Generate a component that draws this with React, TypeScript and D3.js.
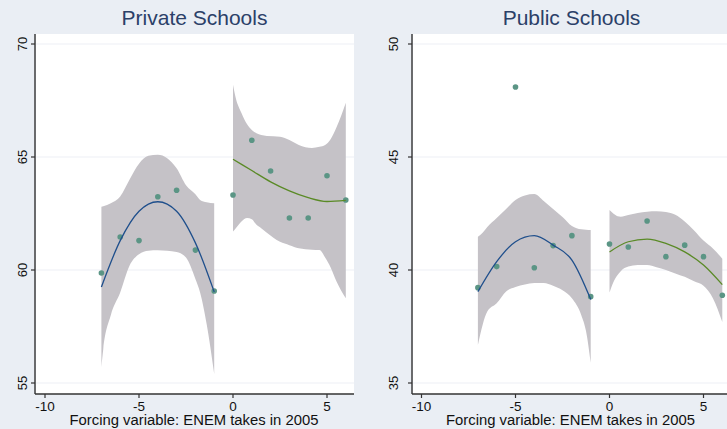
import * as d3 from 'd3';

// bin centres and cell means
const binX = [-7, -6, -5, -4, -3, -2, -1, 0, 1, 2, 3, 4, 5, 6];
const privMeans = [59.87, 61.46, 61.3, 63.24, 63.53, 60.88, 59.07, 63.32, 65.74, 64.38, 62.3, 62.3, 64.17, 63.1];
const pubMeans = [39.22, 40.15, 48.1, 40.1, 41.08, 41.52, 38.82, 41.15, 41.02, 42.17, 40.59, 41.1, 40.59, 38.88];

// quadratic fits, each side of the cutoff
const fitXLeft = [-7, -6, -5, -4, -3, -2, -1];
const fitXRight = [0, 1, 2, 3, 4, 5, 6];
const privFitLeft = [59.25, 61.3, 62.6, 63.02, 62.6, 61.2, 59.03];
const privFitRight = [64.9, 64.4, 63.9, 63.5, 63.2, 63.03, 63.08];
const pubFitLeft = [39.04, 40.37, 41.25, 41.52, 41.1, 40.44, 38.7];
const pubFitRight = [40.8, 41.25, 41.37, 41.18, 40.8, 40.22, 39.35];

// confidence bands
const privBandLX = [-7, -6.9, -6.5, -6, -5.5, -5, -4.5, -4, -3.5, -3, -2.5, -2, -1.75, -1.4, -1];
const privBandLHi = [62.8, 62.82, 62.95, 63.25, 64.0, 64.7, 65.05, 65.1, 64.95, 64.5, 63.75, 63.35, 63.1, 63.0, 62.95];
const privBandLLo = [55.7, 56.5, 58.0, 59.0, 60.2, 60.7, 60.85, 60.87, 60.85, 60.8, 60.55, 59.6, 59.0, 57.6, 55.4];
const privBandRX = [0, 0.15, 0.45, 0.75, 1, 1.25, 1.5, 1.8, 2.5, 3, 3.5, 4.2, 4.6, 4.9, 5.2, 5.5, 6];
const privBandRHi = [68.2, 67.6, 66.95, 66.45, 66.2, 66.05, 65.97, 65.93, 65.9, 65.75, 65.53, 65.4, 65.45, 65.53, 65.8, 66.3, 67.4];
const privBandRLo = [61.7, 61.85, 62.15, 62.3, 62.25, 62.0, 61.85, 61.65, 61.25, 61.1, 60.96, 60.9, 60.88, 60.55, 60.1, 59.5, 58.75];

const pubBandLX = [-7, -6.75, -6.5, -6, -5.5, -5, -4.5, -4, -3.5, -3, -2.5, -2, -1.5, -1.25, -1];
const pubBandLHi = [41.47, 41.65, 41.9, 42.3, 42.7, 43.1, 43.3, 43.36, 43.05, 42.7, 42.35, 41.95, 41.8, 41.78, 41.77];
const pubBandLLo = [36.68, 37.57, 38.16, 38.53, 39.05, 39.25, 39.36, 39.43, 39.42, 39.3, 39.1, 38.75, 38.0, 37.3, 35.9];
const pubBandRX = [0, 0.2, 0.43, 0.6, 1, 1.5, 2, 2.5, 3, 3.5, 4, 4.5, 5, 5.5, 6];
const pubBandRHi = [42.65, 42.5, 42.38, 42.36, 42.43, 42.52, 42.58, 42.6, 42.57, 42.45, 42.15, 41.75, 41.3, 40.95, 40.5];
const pubBandRLo = [39.0, 39.45, 39.78, 39.95, 40.15, 40.22, 40.22, 40.12, 40.0, 39.85, 39.7, 39.5, 39.3, 38.75, 37.7];

const xTicks = [-10, -5, 0, 5];
const privYTicks = [55, 60, 65, 70];
const pubYTicks = [35, 40, 45, 50];

const FONT = 'Liberation Sans, Arial, Helvetica, sans-serif';
const BG = '#eaeef4';
const BAND = '#c5c2c7';
const DOT = '#5b9585';
const BLUE = '#1f4f8c';
const GREEN = '#5a8a26';

const TOP = 34;
const AXIS_Y = 394;

interface PanelProps {
  title: string;
  axisX: number;
  plotRight: number;
  xRange: [number, number];
  yDomain: [number, number];
  yTicks: number[];
  labelX: number;
  means: number[];
  fitLeft: number[];
  fitRight: number[];
  bandLX: number[];
  bandLHi: number[];
  bandLLo: number[];
  bandRX: number[];
  bandRHi: number[];
  bandRLo: number[];
}

function Panel(p: PanelProps) {
  const x = d3.scaleLinear().domain([-10, 5]).range(p.xRange);
  const y = d3.scaleLinear().domain(p.yDomain).range([383, 44]);

  const area = d3
    .area<number>()
    .x((d) => x(d))
    .curve(d3.curveMonotoneX);

  const bandPath = (xs: number[], hi: number[], lo: number[]) =>
    area.y0((_, i) => y(lo[i])).y1((_, i) => y(hi[i]))(xs) ?? '';

  const line = d3
    .line<[number, number]>()
    .x((d) => x(d[0]))
    .y((d) => y(d[1]))
    .curve(d3.curveMonotoneX);

  const centre = (p.axisX + p.plotRight) / 2;
  const titleX = (x(-10) + x(5)) / 2 + 8;

  return (
    <g>
      <rect x={p.axisX + 1} y={TOP} width={p.plotRight - p.axisX - 1} height={AXIS_Y - TOP} fill="#ffffff" />
      {p.yTicks.map((t) => (
        <line key={t} x1={p.axisX} x2={p.plotRight} y1={y(t)} y2={y(t)} stroke="#edf0f5" strokeWidth={1.2} />
      ))}
      <path d={bandPath(p.bandLX, p.bandLHi, p.bandLLo)} fill={BAND} />
      <path d={bandPath(p.bandRX, p.bandRHi, p.bandRLo)} fill={BAND} />
      {binX.map((bx, i) => (
        <circle key={bx} cx={x(bx)} cy={y(p.means[i])} r={2.8} fill={DOT} />
      ))}
      <path d={line(fitXLeft.map((v, i) => [v, p.fitLeft[i]]) as [number, number][]) ?? ''} fill="none" stroke={BLUE} strokeWidth={1.3} />
      <path d={line(fitXRight.map((v, i) => [v, p.fitRight[i]]) as [number, number][]) ?? ''} fill="none" stroke={GREEN} strokeWidth={1.3} />

      {/* axes */}
      <line x1={p.axisX} x2={p.axisX} y1={TOP} y2={AXIS_Y} stroke="#333" strokeWidth={1.4} />
      <line x1={p.axisX} x2={p.plotRight} y1={AXIS_Y} y2={AXIS_Y} stroke="#333" strokeWidth={1.4} />
      {p.yTicks.map((t) => (
        <g key={t}>
          <line x1={p.axisX - 4} x2={p.axisX} y1={y(t)} y2={y(t)} stroke="#333" strokeWidth={1.2} />
          <text
            transform={`translate(${p.labelX},${y(t)}) rotate(-90)`}
            textAnchor="middle"
            fontSize={13}
            fontFamily={FONT}
            fill="#111"
          >
            {t}
          </text>
        </g>
      ))}
      {xTicks.map((t) => (
        <g key={t}>
          <line x1={x(t)} x2={x(t)} y1={AXIS_Y} y2={AXIS_Y + 4} stroke="#333" strokeWidth={1.2} />
          <text x={x(t)} y={410.5} textAnchor="middle" fontSize={13.5} fontFamily={FONT} fill="#111">
            {t}
          </text>
        </g>
      ))}
      <text
        x={titleX}
        y={425}
        textAnchor="middle"
        fontSize={15.5}
        fontFamily={FONT}
        fill="#111"
        textLength={249}
        lengthAdjust="spacingAndGlyphs"
      >
        Forcing variable: ENEM takes in 2005
      </text>
      <text x={centre} y={25} textAnchor="middle" fontSize={21} fontFamily={FONT} fill="#2b4068">
        {p.title}
      </text>
    </g>
  );
}

export default function App() {
  return (
    <div style={{ position: 'fixed', left: 0, top: 0 }}>
      <svg width={727} height={429} style={{ display: 'block', background: BG }}>
        <Panel
          title="Private Schools"
          axisX={35}
          plotRight={354}
          xRange={[45, 327]}
          yDomain={[55, 70]}
          yTicks={privYTicks}
          labelX={27}
          means={privMeans}
          fitLeft={privFitLeft}
          fitRight={privFitRight}
          bandLX={privBandLX}
          bandLHi={privBandLHi}
          bandLLo={privBandLLo}
          bandRX={privBandRX}
          bandRHi={privBandRHi}
          bandRLo={privBandRLo}
        />
        <Panel
          title="Public Schools"
          axisX={412}
          plotRight={731}
          xRange={[421.5, 703.5]}
          yDomain={[35, 50]}
          yTicks={pubYTicks}
          labelX={398}
          means={pubMeans}
          fitLeft={pubFitLeft}
          fitRight={pubFitRight}
          bandLX={pubBandLX}
          bandLHi={pubBandLHi}
          bandLLo={pubBandLLo}
          bandRX={pubBandRX}
          bandRHi={pubBandRHi}
          bandRLo={pubBandRLo}
        />
      </svg>
    </div>
  );
}
